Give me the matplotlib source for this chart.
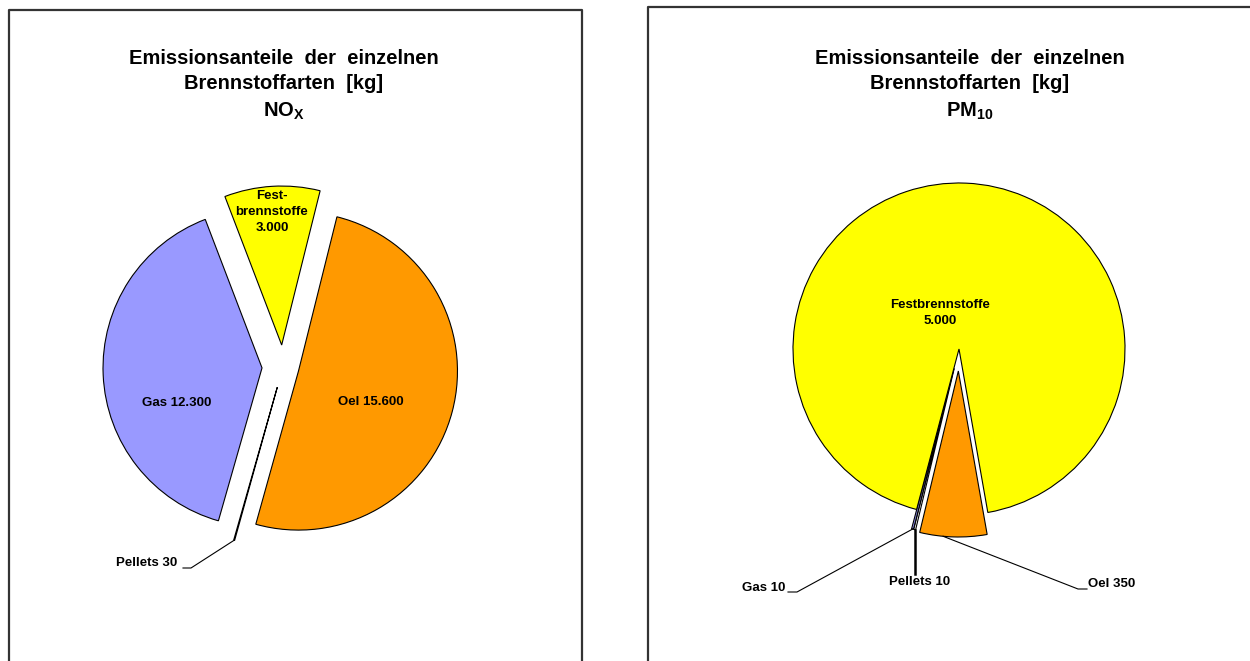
import matplotlib
matplotlib.use("Agg")
import matplotlib.pyplot as plt
import numpy as np

plt.rcParams['font.family'] = ['Liberation Sans', 'DejaVu Sans']
plt.rcParams['mathtext.fontset'] = 'custom'
plt.rcParams['mathtext.bf'] = 'Liberation Sans:bold'
plt.rcParams['mathtext.rm'] = 'Liberation Sans:bold'

# data (order as drawn clockwise)
names = ["Oel", "Pellets", "Gas", "Festbrennstoffe"]
colors = ["#FF9900", "#FFFFFF", "#9999FF", "#FFFF00"]
nox = [15600, 30, 12300, 3000]
pm10 = [350, 10, 10, 5000]

title_top = "Emissionsanteile  der  einzelnen\nBrennstoffarten  [kg]"

W, H = 1250, 661
fig = plt.figure(figsize=(W / 100, H / 100), dpi=100)
ax = fig.add_axes([0, 0, 1, 1])


def py(y):
    # pixel row (from top) -> data y
    return H - y


def fmt(v):
    return f"{v:,}".replace(",", ".")


def draw_pie(vals, cx, cy, r, start, expl):
    wedges, _ = ax.pie(vals, colors=colors, startangle=start, counterclock=False,
                       radius=r, center=(cx, py(cy)), explode=expl,
                       wedgeprops=dict(edgecolor="black", linewidth=0.8),
                       frame=True)
    return wedges


def edge_point(w, frac=0.5):
    a = np.deg2rad(w.theta1 + (w.theta2 - w.theta1) * frac)
    return w.center[0] + w.r * np.cos(a), w.center[1] + w.r * np.sin(a)


lab = dict(fontsize=9.5, fontweight="bold", ha="center", va="center")
ttl = dict(fontsize=14.5, fontweight="bold", ha="center", va="center")

# ---------- left: NOx ----------
wl = draw_pie(nox, 283, 367, 159, 76, [16, 21, 21, 22])
ax.text(272, py(212), "Fest-\nbrennstoffe\n" + fmt(nox[3]), linespacing=1.45, **lab)
ax.text(177, py(403), f"Gas {fmt(nox[2])}", **lab)
ax.text(371, py(402), f"Oel {fmt(nox[0])}", **lab)
ax.text(147, py(563), f"Pellets {fmt(nox[1])}", **lab)
ex, ey = edge_point(wl[1])
ax.plot([183, 191, ex], [py(568), py(568), ey], color="black", lw=0.8)

ax.text(284, py(71), title_top, linespacing=1.45, **ttl)
ax.text(284, py(111), r"$\mathbf{NO_{X}}$", fontsize=14.5, ha="center", va="center")

# ---------- right: PM10 ----------
wr = draw_pie(pm10, 959, 349, 166, -80, [22, 20, 20, 0])
ax.text(940, py(313), "Festbrennstoffe\n" + fmt(pm10[3]), linespacing=1.45, **lab)
ax.text(764, py(588), f"Gas {fmt(pm10[2])}", **lab)
ax.text(920, py(582), f"Pellets {fmt(pm10[1])}", **lab)
ax.text(1112, py(584), f"Oel {fmt(pm10[0])}", **lab)
gx, gy = edge_point(wr[2])
ax.plot([788, 797, gx], [py(592), py(592), gy], color="black", lw=0.8)
px_, py_ = edge_point(wr[1])
ax.plot([px_, px_], [py_, py(574)], color="black", lw=1.8)
ox, oy = edge_point(wr[0], 0.35)
ax.plot([1087, 1078, ox], [py(589), py(589), oy], color="black", lw=0.8)

ax.text(970, py(71), title_top, linespacing=1.45, **ttl)
ax.text(970, py(111), r"$\mathbf{PM_{10}}$", fontsize=14.5, ha="center", va="center")

# panel frames
ax.plot([9, 9, 582, 582], [0, py(10), py(10), 0], color="#333333", lw=1.6)
ax.plot([648, 648, W + 5], [0, py(7), py(7)], color="#333333", lw=1.6)

ax.set_xlim(0, W)
ax.set_ylim(0, H)
ax.set_aspect("equal")
ax.axis("off")

fig.savefig("out.png", dpi=100)
